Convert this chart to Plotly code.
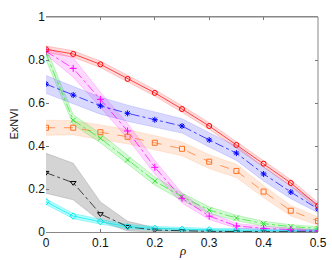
import plotly.graph_objects as go

rho = [0, 0.05, 0.1, 0.15, 0.2, 0.25, 0.3, 0.35, 0.4, 0.45, 0.5]

red = [0.85, 0.828, 0.78, 0.712, 0.647, 0.572, 0.493, 0.405, 0.318, 0.228, 0.122]
red_lo = [0.835, 0.813, 0.765, 0.697, 0.632, 0.557, 0.478, 0.39, 0.303, 0.213, 0.107]
red_hi = [0.865, 0.843, 0.795, 0.727, 0.662, 0.587, 0.508, 0.42, 0.333, 0.243, 0.137]

blue = [0.688, 0.637, 0.587, 0.552, 0.522, 0.493, 0.428, 0.367, 0.27, 0.186, 0.107]
blue_lo = [0.645, 0.597, 0.548, 0.515, 0.487, 0.46, 0.395, 0.333, 0.237, 0.155, 0.09]
blue_hi = [0.728, 0.677, 0.627, 0.59, 0.557, 0.527, 0.462, 0.4, 0.303, 0.217, 0.128]

magenta = [0.84, 0.761, 0.617, 0.47, 0.301, 0.157, 0.074, 0.028, 0.017, 0.01, 0.005]
magenta_lo = [0.825, 0.72, 0.58, 0.435, 0.27, 0.135, 0.058, 0.018, 0.009, 0.004, 0.001]
magenta_hi = [0.855, 0.81, 0.65, 0.505, 0.332, 0.18, 0.09, 0.04, 0.026, 0.017, 0.01]

green = [0.83, 0.52, 0.436, 0.335, 0.237, 0.164, 0.102, 0.065, 0.039, 0.025, 0.017]
green_lo = [0.8, 0.5, 0.415, 0.315, 0.218, 0.147, 0.087, 0.052, 0.028, 0.016, 0.009]
green_hi = [0.86, 0.545, 0.458, 0.355, 0.256, 0.181, 0.117, 0.078, 0.05, 0.034, 0.025]

orange = [0.485, 0.485, 0.464, 0.443, 0.415, 0.387, 0.327, 0.284, 0.188, 0.099, 0.051]
orange_lo = [0.45, 0.452, 0.43, 0.41, 0.382, 0.355, 0.295, 0.253, 0.16, 0.075, 0.032]
orange_hi = [0.52, 0.518, 0.498, 0.476, 0.448, 0.419, 0.359, 0.315, 0.216, 0.123, 0.07]

black = [0.276, 0.229, 0.084, 0.025, 0.009, 0.005, 0.003, 0.002, 0.002, 0.001, 0.001]
black_lo = [0.18, 0.15, 0.05, 0.005, 0.0, 0.0, 0.0, 0.0, 0.0, 0.0, 0.0]
black_hi = [0.366, 0.32, 0.14, 0.05, 0.02, 0.012, 0.008, 0.006, 0.005, 0.004, 0.003]

cyan = [0.141, 0.074, 0.048, 0.025, 0.017, 0.012, 0.01, 0.009, 0.008, 0.007, 0.006]
cyan_lo = [0.128, 0.062, 0.037, 0.015, 0.008, 0.004, 0.003, 0.002, 0.002, 0.001, 0.001]
cyan_hi = [0.154, 0.086, 0.059, 0.035, 0.026, 0.02, 0.017, 0.016, 0.015, 0.013, 0.012]

xticks = [0, 0.1, 0.2, 0.3, 0.4, 0.5]
xticklabels = ["0", "0.1", "0.2", "0.3", "0.4", "0.5"]
yticks = [0, 0.2, 0.4, 0.6, 0.8, 1]
yticklabels = ["0", "0.2", "0.4", "0.6", "0.8", "1"]

series = [
    # values, lo, hi, line color, fill color, edge color, dash, marker symbol
    (black, black_lo, black_hi, "#000000", "rgba(120,120,120,0.32)", "rgba(90,90,90,0.4)", "dashdot", "triangle-down-open"),
    (cyan, cyan_lo, cyan_hi, "#00e8f0", "rgba(0,255,255,0.3)", "rgba(0,220,230,0.5)", "solid", "diamond-open"),
    (orange, orange_lo, orange_hi, "#ff7020", "rgba(255,150,80,0.22)", "rgba(255,140,60,0.3)", "dash", "square-open"),
    (green, green_lo, green_hi, "#2ee02e", "rgba(80,240,80,0.25)", "rgba(40,210,40,0.4)", "dashdot", "x-thin-open"),
    (magenta, magenta_lo, magenta_hi, "#ff00ff", "rgba(255,60,255,0.2)", "rgba(255,0,255,0.3)", "dashdot", "cross-thin-open"),
    (blue, blue_lo, blue_hi, "#0000ff", "rgba(80,80,255,0.22)", "rgba(60,60,255,0.3)", "dashdot", "asterisk-open"),
    (red, red_lo, red_hi, "#ff0000", "rgba(255,80,80,0.22)", "rgba(255,40,40,0.35)", "solid", "circle-open"),
]

fig = go.Figure()
for vals, lo, hi, col, fillc, edgec, dash, sym in series:
    fig.add_trace(go.Scatter(x=rho, y=lo, mode="lines", line=dict(width=0.6, color=edgec),
                             showlegend=False, hoverinfo="skip"))
    fig.add_trace(go.Scatter(x=rho, y=hi, mode="lines", line=dict(width=0.6, color=edgec),
                             fill="tonexty", fillcolor=fillc, showlegend=False, hoverinfo="skip"))
for vals, lo, hi, col, fillc, edgec, dash, sym in series:
    fig.add_trace(go.Scatter(x=rho, y=vals, mode="lines+markers",
                             line=dict(width=0.7, color=col, dash=dash),
                             marker=dict(symbol=sym, size=5, color=col, line=dict(width=1, color=col)),
                             showlegend=False))

tickfont = dict(family="Liberation Sans, Arial, sans-serif", size=12, color="#111")
axis_common = dict(showgrid=False, zeroline=False, ticks="inside", ticklen=3,
                   tickcolor="#777", linecolor="#888", linewidth=1, mirror="ticks",
                   automargin=False, tickfont=tickfont)

fig.update_layout(
    width=332, height=260,
    margin=dict(l=46, r=14, t=17, b=28, autoexpand=False),
    paper_bgcolor="white", plot_bgcolor="white",
    xaxis=dict(range=[0, 0.5], tickvals=xticks, ticktext=xticklabels, showline=True, **axis_common),
    yaxis=dict(range=[0, 1], tickvals=yticks, ticktext=yticklabels, showline=False, **axis_common),
    annotations=[
        dict(text="<i>ρ</i>", xref="paper", yref="paper", x=0.5, y=0, yshift=-18,
             xanchor="center", yanchor="middle", showarrow=False,
             font=dict(family="Liberation Serif, serif", size=13, color="#111")),
        dict(text="ExNVI", xref="paper", yref="paper", x=0, xshift=-33, y=0.5,
             xanchor="center", yanchor="middle", textangle=-90, showarrow=False,
             font=dict(family="Liberation Sans, Arial, sans-serif", size=11, color="#111")),
    ],
    shapes=[
        dict(type="line", xref="paper", yref="paper", x0=0, x1=1, y0=1, y1=1, line=dict(color="#888", width=1)),
        dict(type="line", xref="paper", yref="paper", x0=1, x1=1, y0=0, y1=1, line=dict(color="#888", width=1)),
    ],
)

fig.write_html("out.html", config={"displayModeBar": False},
               post_script="document.body.style.margin='0';document.body.style.padding='0';document.body.style.overflow='hidden';")
